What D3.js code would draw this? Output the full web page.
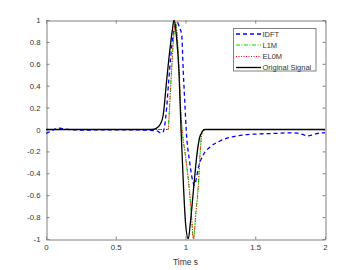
<!DOCTYPE html>
<html><head><meta charset="utf-8">
<script src="https://cdn.jsdelivr.net/npm/d3@7"></script>
<style>html,body{margin:0;padding:0;background:#fff}svg{display:block}</style>
</head><body>
<svg id="c" width="360" height="270"></svg>
<script>
const xTicks = [0, 0.5, 1, 1.5, 2];
const xTickLabels = ["0", "0.5", "1", "1.5", "2"];
const yTicks = [-1, -0.8, -0.6, -0.4, -0.2, 0, 0.2, 0.4, 0.6, 0.8, 1];
const yTickLabels = ["-1", "-0.8", "-0.6", "-0.4", "-0.2", "0", "0.2", "0.4", "0.6", "0.8", "1"];
const seriesNames = ["IDFT", "L1M", "EL0M", "Original Signal"];
const xLabel = "Time s";

const idftT = [0, 0.03, 0.07, 0.1, 0.13, 0.2, 0.3, 0.4, 0.5, 0.6, 0.7, 0.78, 0.8, 0.82, 0.835, 0.85, 0.865, 0.88, 0.895, 0.91, 0.925, 0.94, 0.955, 0.973, 0.984, 0.995, 1.005, 1.03, 1.056, 1.062, 1.07, 1.092, 1.128, 1.176, 1.247, 1.319, 1.412, 1.534, 1.654, 1.749, 1.8, 1.84, 1.878, 1.91, 1.94, 1.986, 2.0];
const idftV = [-0.035, -0.02, 0.005, 0.012, 0.005, -0.003, -0.005, -0.003, -0.004, -0.003, -0.005, -0.01, -0.015, -0.03, -0.03, 0.03, 0.2, 0.45, 0.68, 0.85, 0.95, 0.98, 0.94, 0.86, 0.53, 0.25, 0.0, -0.3, -0.49, -0.51, -0.49, -0.35, -0.23, -0.16, -0.105, -0.072, -0.05, -0.04, -0.035, -0.03, -0.033, -0.045, -0.058, -0.05, -0.038, -0.03, -0.028];

const l1mT = [0, 0.5, 0.85, 0.875, 0.885, 0.9, 0.915, 0.928, 0.94, 0.955, 0.965, 0.975, 0.995, 1.01, 1.027, 1.042, 1.056, 1.075, 1.092, 1.105, 1.115, 1.125, 1.3, 2.0];
const l1mV = [0, 0, 0, 0.0, 0.2, 0.55, 0.85, 0.98, 0.85, 0.5, 0.2, 0.0, -0.2, -0.35, -0.55, -0.78, -1.0, -0.75, -0.5, -0.2, -0.05, 0.0, 0.0, 0.0];

const el0mT = [0, 0.5, 0.85, 0.876, 0.886, 0.901, 0.916, 0.929, 0.941, 0.956, 0.966, 0.976, 0.996, 1.011, 1.028, 1.043, 1.057, 1.076, 1.093, 1.106, 1.116, 1.126, 1.3, 2.0];
const el0mV = [0, 0, 0, 0.0, 0.2, 0.55, 0.85, 0.98, 0.85, 0.5, 0.2, 0.0, -0.2, -0.35, -0.55, -0.78, -1.0, -0.75, -0.5, -0.2, -0.05, 0.0, 0.0, 0.0];

const origT = [0, 0.5, 0.76, 0.79, 0.82, 0.84, 0.865, 0.89, 0.905, 0.918, 0.935, 0.953, 0.968, 0.985, 1.0, 1.02, 1.035, 1.061, 1.08, 1.1, 1.12, 1.14, 1.5, 2.0];
const origV = [0, 0, 0, 0.01, 0.05, 0.13, 0.45, 0.75, 0.9, 1.0, 0.85, 0.53, 0.0, -0.5, -0.85, -1.0, -0.85, -0.5, -0.25, -0.08, -0.02, 0, 0, 0];

const svg = d3.select("#c");
const L = 46, R = 325, T = 20, B = 239;
const x = d3.scaleLinear().domain([0, 2]).range([L, R]);
const y = d3.scaleLinear().domain([-1, 1]).range([B, T]);

const axisColor = "#808080";
const textColor = "#333";
const font = "'Liberation Sans', Arial, sans-serif";

svg.append("defs").append("clipPath").attr("id", "clip")
  .append("rect").attr("x", L).attr("y", T).attr("width", R - L).attr("height", B - T);

const gx = svg.append("g").attr("transform", `translate(0,${B + 0.5})`)
  .call(d3.axisBottom(x).tickValues(xTicks).tickFormat((d, i) => xTickLabels[i]).tickSizeInner(-3).tickSizeOuter(0).tickPadding(5));
const gxt = svg.append("g").attr("transform", `translate(0,${T + 0.5})`)
  .call(d3.axisTop(x).tickValues(xTicks).tickFormat("").tickSizeInner(-3).tickSizeOuter(0));
const gy = svg.append("g").attr("transform", `translate(${L + 0.5},0)`)
  .call(d3.axisLeft(y).tickValues(yTicks).tickFormat((d, i) => yTickLabels[i]).tickSizeInner(-3).tickSizeOuter(0).tickPadding(6));
const gyr = svg.append("g").attr("transform", `translate(${R + 0.5},0)`)
  .call(d3.axisRight(y).tickValues(yTicks).tickFormat("").tickSizeInner(-3).tickSizeOuter(0));
[gx, gxt, gy, gyr].forEach(g => {
  g.selectAll("path,line").attr("stroke", axisColor);
  g.selectAll("text").attr("fill", textColor).attr("font-family", font).attr("font-size", 7.8);
});

svg.append("text").attr("x", (L + R) / 2).attr("y", 265).attr("text-anchor", "middle")
  .attr("font-family", font).attr("font-size", 8.5).attr("fill", textColor).text(xLabel);

const line = d3.line().x(d => x(d[0])).y(d => y(d[1])).curve(d3.curveMonotoneX);
const zip = (a, b) => a.map((v, i) => [v, b[i]]);

const styles = [
  {t: idftT, v: idftV, color: "#0000ff", width: 1.3, dash: "4,3"},
  {t: l1mT, v: l1mV, color: "#00e000", width: 1, dash: "4,1.5,1,1.5"},
  {t: el0mT, v: el0mV, color: "#ff0000", width: 1, dash: "1,1.5"},
  {t: origT, v: origV, color: "#000000", width: 1.3, dash: null}
];
const plot = svg.append("g").attr("clip-path", "url(#clip)");
styles.forEach(s => {
  plot.append("path").attr("d", line(zip(s.t, s.v))).attr("fill", "none")
    .attr("stroke", s.color).attr("stroke-width", s.width)
    .attr("stroke-dasharray", s.dash);
});

const lg = svg.append("g");
lg.append("rect").attr("x", 233.5).attr("y", 28.5).attr("width", 82.5).attr("height", 42.5)
  .attr("fill", "#fff").attr("stroke", axisColor).attr("stroke-width", 1);
const rowY = [34, 45, 56.5, 67.5];
styles.forEach((s, i) => {
  lg.append("line").attr("x1", 236).attr("x2", 261).attr("y1", rowY[i]).attr("y2", rowY[i])
    .attr("stroke", s.color).attr("stroke-width", s.width).attr("stroke-dasharray", s.dash);
  lg.append("text").attr("x", 262.5).attr("y", rowY[i] + 2.8).attr("font-family", font)
    .attr("font-size", 7.5).attr("fill", textColor).text(seriesNames[i]);
});
</script>
</body></html>
